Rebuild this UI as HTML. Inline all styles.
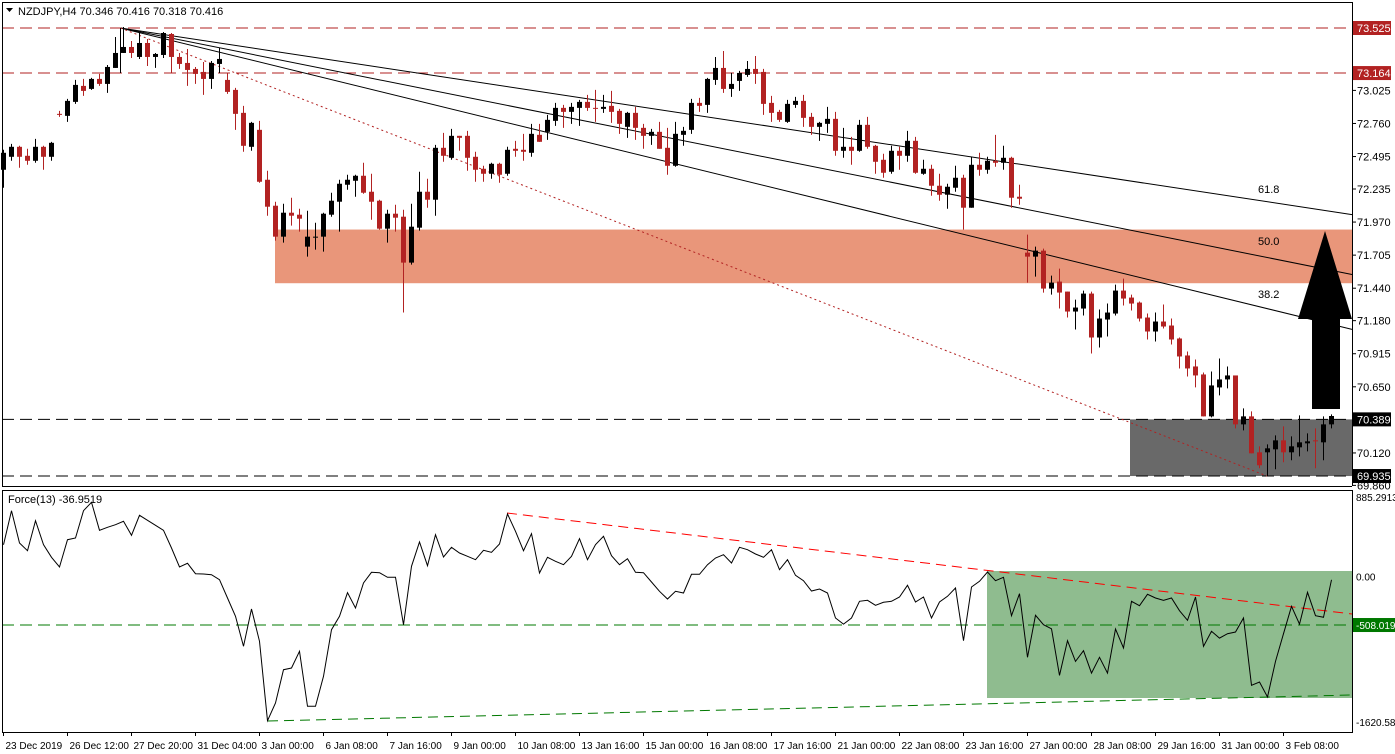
<!DOCTYPE html>
<html><head><meta charset="utf-8"><style>
html,body{margin:0;padding:0;background:#fff;}
svg{display:block;font-family:"Liberation Sans",sans-serif;}
</style></head><body>
<svg id="chart" width="1395" height="754" xmlns="http://www.w3.org/2000/svg">
<rect x="0" y="0" width="1395" height="754" fill="#fff"/>
<g id="price-bg"></g>
<g id="candles"></g>
<g id="overlay"></g>
<g id="force"></g>
<g id="axes"></g>
</svg>
<script>
const opens=[72.389,72.493,72.573,72.501,72.461,72.573,72.493,72.837,72.821,72.933,73.061,73.037,73.117,73.077,73.205,73.325,73.373,73.293,73.405,73.293,73.309,73.477,73.293,73.245,73.197,73.173,73.117,73.237,73.109,73.029,72.845,72.573,72.709,72.309,72.101,71.853,72.045,72.029,71.773,71.845,71.853,72.029,72.133,72.269,72.301,72.341,72.213,72.141,71.917,72.037,72.013,71.645,71.925,72.213,72.149,72.565,72.485,72.661,72.661,72.493,72.397,72.357,72.437,72.357,72.557,72.549,72.525,72.669,72.693,72.781,72.885,72.853,72.885,72.933,72.885,72.877,72.901,72.861,72.733,72.845,72.725,72.661,72.693,72.565,72.421,72.669,72.709,72.925,72.909,73.109,73.205,73.037,73.101,73.149,73.197,73.173,72.925,72.853,72.773,72.909,72.941,72.813,72.733,72.757,72.797,72.541,72.573,72.541,72.749,72.581,72.469,72.373,72.541,72.501,72.621,72.357,72.397,72.261,72.189,72.245,72.325,72.085,72.429,72.389,72.461,72.445,72.485,72.173,71.725,71.693,71.741,71.437,71.493,71.413,71.253,71.277,71.397,71.045,71.189,71.237,71.421,71.365,71.325,71.205,71.093,71.173,71.141,71.037,70.901,70.813,70.749,70.413,70.645,70.709,70.741,70.349,70.413,70.125,70.125,70.149,70.221,70.125,70.165,70.197,70.221,70.205,70.349];
const highs=[72.549,72.597,72.581,72.557,72.637,72.581,72.613,72.861,72.957,73.109,73.117,73.125,73.157,73.229,73.453,73.533,73.421,73.493,73.437,73.325,73.493,73.485,73.325,73.357,73.213,73.253,73.261,73.365,73.165,73.045,72.901,72.773,72.781,72.381,72.133,72.117,72.165,72.077,72.061,71.965,72.045,72.205,72.309,72.349,72.349,72.445,72.357,72.149,72.069,72.109,72.069,72.117,72.373,72.317,72.589,72.685,72.717,72.661,72.701,72.533,72.421,72.445,72.445,72.573,72.621,72.677,72.757,72.757,72.829,72.925,72.909,72.925,72.949,72.989,73.029,72.989,73.021,72.877,72.853,72.893,72.757,72.717,72.773,72.725,72.773,72.733,72.957,72.965,73.125,73.293,73.341,73.165,73.181,73.261,73.301,73.197,72.981,72.869,72.949,72.973,72.989,72.845,72.773,72.893,72.853,72.725,72.653,72.789,72.813,72.589,72.517,72.581,72.573,72.701,72.653,72.469,72.429,72.357,72.277,72.421,72.349,72.493,72.525,72.493,72.669,72.581,72.493,72.269,71.869,71.773,71.757,71.541,71.597,71.413,71.349,71.421,71.413,71.269,71.317,71.469,71.517,71.389,71.333,71.237,71.245,71.309,71.197,71.045,70.933,70.869,70.765,70.773,70.877,70.813,70.741,70.477,70.453,70.173,70.189,70.261,70.333,70.253,70.421,70.277,70.317,70.413,70.429];
const lows=[72.245,72.461,72.405,72.429,72.445,72.389,72.461,72.813,72.773,72.917,72.981,73.029,73.061,73.005,73.205,73.325,73.285,73.277,73.221,73.205,73.285,73.165,73.197,73.061,73.077,72.989,73.037,73.173,72.997,72.709,72.533,72.541,72.285,72.021,71.821,71.805,71.941,71.893,71.693,71.749,71.733,72.013,71.893,72.229,72.173,72.197,71.989,71.909,71.805,71.893,71.245,71.629,71.901,72.085,72.021,72.453,72.469,72.541,72.381,72.293,72.293,72.317,72.285,72.341,72.493,72.461,72.493,72.613,72.629,72.741,72.725,72.757,72.741,72.861,72.773,72.845,72.765,72.677,72.645,72.629,72.557,72.589,72.557,72.349,72.413,72.581,72.677,72.853,72.845,73.069,73.005,72.973,73.021,73.133,73.077,72.829,72.773,72.773,72.765,72.885,72.733,72.669,72.621,72.685,72.501,72.485,72.429,72.533,72.557,72.357,72.325,72.357,72.389,72.453,72.357,72.349,72.181,72.141,72.077,72.213,71.909,72.085,72.341,72.357,72.413,72.389,72.085,72.109,71.485,71.533,71.405,71.389,71.277,71.205,71.109,71.221,70.917,70.965,71.053,71.221,71.301,71.261,71.173,71.029,71.013,71.117,70.989,70.797,70.733,70.645,70.413,70.405,70.581,70.637,70.317,70.301,70.117,69.997,69.933,69.989,70.045,70.061,70.093,70.133,69.997,70.061,70.317];
const closes=[72.525,72.573,72.493,72.461,72.573,72.493,72.605,72.829,72.941,73.069,73.021,73.117,73.077,73.213,73.325,73.373,73.325,73.405,73.293,73.317,73.485,73.293,73.237,73.189,73.157,73.117,73.245,73.277,73.013,72.837,72.581,72.765,72.293,72.093,71.853,72.045,72.021,71.997,71.853,71.853,72.037,72.141,72.277,72.309,72.341,72.205,72.133,71.917,72.037,72.005,71.645,71.933,72.213,72.149,72.565,72.501,72.661,72.645,72.485,72.389,72.357,72.437,72.349,72.549,72.541,72.533,72.677,72.613,72.789,72.885,72.853,72.893,72.933,72.885,72.877,72.893,72.853,72.757,72.845,72.725,72.661,72.693,72.557,72.421,72.677,72.701,72.925,72.901,73.117,73.205,73.037,73.077,73.165,73.197,73.157,72.917,72.845,72.789,72.917,72.941,72.805,72.733,72.765,72.797,72.541,72.573,72.541,72.749,72.573,72.453,72.365,72.541,72.501,72.621,72.365,72.397,72.261,72.189,72.253,72.325,72.085,72.429,72.389,72.461,72.445,72.485,72.165,72.157,71.693,71.741,71.437,71.485,71.405,71.253,71.285,71.397,71.045,71.197,71.245,71.421,71.357,71.317,71.197,71.093,71.173,71.133,71.029,70.893,70.797,70.741,70.413,70.661,70.709,70.741,70.349,70.413,70.117,70.021,70.157,70.221,70.125,70.173,70.205,70.213,70.213,70.349,70.416];
const forceVals=[330,684,347,267,580,330,198,97,382,399,684,772,480,511,538,574,428,636,584,532,480,295,97,136,27,24,17,-35,-226,-417,-730,-341,-678,-1506,-1321,-974,-956,-782,-1356,-1356,-1043,-557,-417,-171,-331,-70,42,38,-10,-10,-505,104,358,111,434,201,302,243,209,173,271,250,337,650,469,267,444,34,198,156,121,209,392,173,330,417,215,121,184,42,38,-59,-156,-237,-156,-174,21,21,121,191,225,139,302,277,233,198,277,69,173,10,-46,-153,-132,-174,-435,-498,-435,-261,-250,-302,-271,-261,-216,-94,-268,-216,-435,-268,-209,-122,-672,-112,-52,45,-46,-10,-411,-181,-845,-407,-505,-547,-1033,-672,-887,-776,-1009,-845,-1009,-550,-748,-261,-307,-188,-226,-250,-226,-359,-459,-216,-730,-574,-644,-599,-581,-435,-1137,-1102,-1259,-887,-599,-313,-498,-167,-411,-428,-37];
const priceTicks=[73.025,72.760,72.495,72.235,71.970,71.705,71.440,71.180,70.915,70.650,70.120,69.860];
const priceMarks=[73.525,73.164,70.389,69.935];
const forceTickLabels=["885.2913","0.00","-1620.58"];
const forceTickVals=[885.2913,0,-1520];
const dateLabels=["23 Dec 2019","26 Dec 12:00","27 Dec 20:00","31 Dec 04:00","3 Jan 00:00","6 Jan 08:00","7 Jan 16:00","9 Jan 00:00","10 Jan 08:00","13 Jan 16:00","15 Jan 00:00","16 Jan 08:00","17 Jan 16:00","21 Jan 00:00","22 Jan 08:00","23 Jan 16:00","27 Jan 00:00","28 Jan 08:00","29 Jan 16:00","31 Jan 00:00","3 Feb 08:00"];

const NS="http://www.w3.org/2000/svg";
const PL=2,PR=1352,PT=2,PB=488,FT=490,FB=732;
function X(i){return 3.5+8*i;}
function Y(p){return 28+(73.525-p)*124.8;}
function FY(v){return 576.3-v*0.0959;}
function mk(parent,tag,attrs){const e=document.createElementNS(NS,tag);for(const k in attrs)e.setAttribute(k,attrs[k]);parent.appendChild(e);return e;}
const bg=document.getElementById('price-bg'),cg=document.getElementById('candles'),ov=document.getElementById('overlay'),fg=document.getElementById('force'),ax=document.getElementById('axes');

let z=mk(bg,'rect',{x:275,y:Y(71.91),width:PR-275,height:Y(71.48)-Y(71.91),fill:'#e9967a'});


z=mk(bg,'rect',{x:1130,y:Y(70.389),width:PR-1130,height:Y(69.935)-Y(70.389),fill:'#696969'});


[[73.525,'#b22222'],[73.164,'#b22222'],[70.389,'#000'],[69.935,'#000']].forEach(function(h){
  const l=mk(bg,'line',{x1:PL,x2:PR,y1:Y(h[0]),y2:Y(h[0]),stroke:h[1],'stroke-width':1,'stroke-dasharray':'12,6'});
  
  
});
const ox=X(15)-3,oy=Y(73.525);
const fanEnds=[[72.03,'61.8'],[71.55,'50.0'],[71.11,'38.2']];
fanEnds.forEach(function(f){
  const l=mk(bg,'line',{x1:ox,y1:oy,x2:PR,y2:Y(f[0]),stroke:'#000','stroke-width':1});
  
  
});
let fl=mk(bg,'line',{x1:ox,y1:oy,x2:1267,y2:Y(69.935),stroke:'#b22222','stroke-width':1,'stroke-dasharray':'2,3'});


fl=mk(bg,'line',{x1:ox,y1:oy,x2:ox,y2:Y(73.164),stroke:'#000','stroke-width':1});


fl=mk(bg,'line',{x1:219.5,y1:48,x2:219.5,y2:Y(73.164),stroke:'#000','stroke-width':1});


[['61.8',189],['50.0',241],['38.2',294]].forEach(function(t){
  const e=mk(ov,'text',{x:1258,y:t[1]+4,'font-size':11,fill:'#000'});e.textContent=t[0];
  
  
});

for(let i=0;i<opens.length;i++){
  const o=opens[i],c=closes[i],up=c>=o,col=up?'#000':'#b22222',x=X(i);
  const w=mk(cg,'line',{x1:x,x2:x,y1:Y(highs[i]),y2:Y(lows[i]),stroke:col,'stroke-width':1});
  
  
  const t=Y(Math.max(o,c)),b=Y(Math.min(o,c));
  const r=mk(cg,'rect',{x:x-2.5,y:t,width:5,height:Math.max(1,b-t),fill:col});
  
  
}
const ar=mk(ov,'polygon',{points:'1325,231 1298,319 1312,319 1312,409 1340,409 1340,319 1352,319',fill:'#000'});


let tt=mk(ov,'polygon',{points:'6,8 13,8 9.5,12',fill:'#000'});


tt=mk(ov,'text',{x:18,y:15,'font-size':11,fill:'#000'});tt.textContent='NZDJPY,H4  70.346 70.416 70.318 70.416';



let fr=mk(fg,'rect',{x:987,y:571,width:PR-987,height:127,fill:'#8fbc8f'});


fr=mk(fg,'line',{x1:PL,x2:PR,y1:FY(-508.019),y2:FY(-508.019),stroke:'#007800','stroke-width':1,'stroke-dasharray':'12,6'});


fr=mk(fg,'line',{x1:507,y1:513,x2:PR,y2:614,stroke:'#ff0000','stroke-width':1,'stroke-dasharray':'10,6'});


fr=mk(fg,'line',{x1:268,y1:721,x2:PR,y2:695,stroke:'#007800','stroke-width':1,'stroke-dasharray':'10,6'});


let pts=forceVals.map(function(v,i){return X(i)+','+FY(v).toFixed(1);}).join(' ');
fr=mk(fg,'polyline',{points:pts,fill:'none',stroke:'#000','stroke-width':1});


fr=mk(fg,'text',{x:8,y:503,'font-size':11,fill:'#000'});fr.textContent='Force(13) -36.9519';



let f=mk(ax,'rect',{x:PL+0.5,y:PT+0.5,width:PR-PL,height:PB-PT-2,fill:'none',stroke:'#000','stroke-width':1});


f=mk(ax,'rect',{x:PL+0.5,y:FT+0.5,width:PR-PL,height:FB-FT,fill:'none',stroke:'#000','stroke-width':1});


f=mk(ax,'rect',{x:1352,y:486,width:43,height:4,fill:'#fff'});


priceTicks.forEach(function(p){
  const y=Y(p);
  const l=mk(ax,'line',{x1:PR,x2:PR+4,y1:y,y2:y,stroke:'#000'});
  
  
  const t=mk(ax,'text',{x:1357,y:y+4,'font-size':11,fill:'#000'});t.textContent=p.toFixed(3);
  
  
});
priceMarks.forEach(function(p,k){
  const y=Y(p),col=k<2?'#b22222':'#000';
  const r=mk(ax,'rect',{x:1353,y:y-7,width:38,height:14,fill:col});
  
  
  const t=mk(ax,'text',{x:1357,y:y+4,'font-size':11,fill:'#fff'});t.textContent=p.toFixed(3);
  
  
});
forceTickVals.forEach(function(v,k){
  const y=Math.max(FY(v),497);
  const t=mk(ax,'text',{x:1356,y:y+4,'font-size':10,fill:'#000'});t.textContent=forceTickLabels[k];
  
  
});
let fm=mk(ax,'rect',{x:1353,y:FY(-508.019)-7,width:42,height:14,fill:'#007800'});


fm=mk(ax,'text',{x:1356,y:FY(-508.019)+4,'font-size':10,fill:'#fff'});fm.textContent='-508.019';


dateLabels.forEach(function(d,k){
  const x=X(8*k);
  const l=mk(ax,'line',{x1:x,x2:x,y1:FB,y2:FB+4,stroke:'#000'});
  
  
  const t=mk(ax,'text',{x:x+2,y:749,'font-size':10,fill:'#000'});t.textContent=d;
  
  
});
</script>
</body></html>
